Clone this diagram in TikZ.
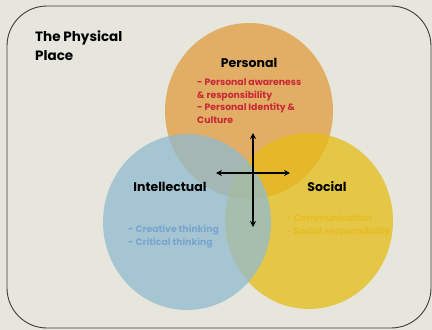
\documentclass[tikz,border=0pt]{standalone}
\usepackage{fontspec}
\setmainfont{Poppins}
\usetikzlibrary{shapes.geometric,arrows.meta}
\definecolor{paper}{RGB}{230,230,221}
\definecolor{frame}{RGB}{60,60,60}
\definecolor{corange}{RGB}{225,154,60}
\definecolor{cblue}{RGB}{145,187,208}
\definecolor{cyellow}{RGB}{229,189,21}
\definecolor{tred}{RGB}{200,40,55}
\definecolor{tblue}{RGB}{120,165,205}
\definecolor{tyellow}{RGB}{232,188,35}
\tikzset{
  venn/.style={ellipse, minimum width=168pt, minimum height=176pt, inner sep=0pt, fill opacity=0.75},
  head/.style={font=\bfseries\fontsize{12.5}{14}\selectfont, text=black, anchor=base},
  items/.style={font=\bfseries\fontsize{9.3}{12.5}\selectfont, align=left, anchor=base west, inner sep=0pt},
  arr/.style={line width=1.1pt, {Stealth[length=6pt,width=6pt]}-{Stealth[length=6pt,width=6pt]}}
}
\begin{document}
\begin{tikzpicture}[x=1pt,y=-1pt]
\fill[paper] (0,0) rectangle (432,330);
\useasboundingbox (0,0) rectangle (432,330);
\draw[frame, line width=0.9pt, rounded corners=40pt] (7,6) rectangle (431,328);
\node[venn, fill=corange] (orange) at (249,111) {};
\node[venn, fill=cyellow] (yellow) at (309,221) {};
\node[venn, fill=cblue] (blue) at (187,222) {};
\node[font=\bfseries\fontsize{13.5}{19}\selectfont, align=left, anchor=base west, inner sep=0pt] (title) at (35,60) {The Physical\\Place};
\node[head] (personal) at (249,67) {Personal};
\node[head] (intel) at (170,191) {Intellectual};
\node[head] (social) at (327,191) {Social};
\node[items, text=tred] (ptext) at (197,123) {- Personal awareness\\\& responsibility\\- Personal Identity \&\\Culture};
\node[items, text=tblue] (itext) at (128,245) {- Creative thinking\\- Critical thinking};
\node[items, text=tyellow] (stext) at (286,234) {- Communication\\- Social responsibility};
\coordinate (vt) at (253,133);
\coordinate (vb) at (253,227);
\coordinate (hl) at (216,173);
\coordinate (hr) at (290,173);
\draw[arr] (vt) -- (vb);
\draw[arr] (hl) -- (hr);
\end{tikzpicture}
\end{document}
